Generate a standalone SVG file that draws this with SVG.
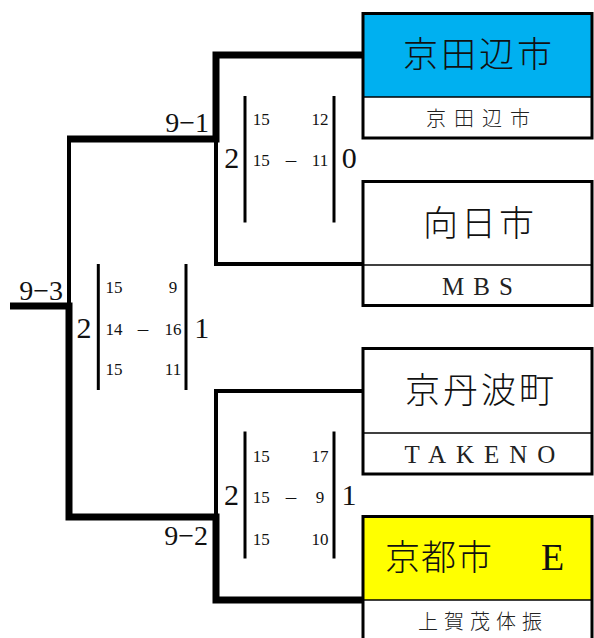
<svg xmlns="http://www.w3.org/2000/svg" width="594" height="638" viewBox="0 0 594 638">
<style>
.bg{fill:#ffffff}
.thick{fill:none;stroke:#000;stroke-width:7;stroke-linejoin:miter}
.thin{fill:none;stroke:#000;stroke-width:4;stroke-linejoin:miter}
.box{fill:none;stroke:#000;stroke-width:3}
.div{stroke:#000;stroke-width:1.3}
.bar{stroke:#000;stroke-width:3}
.name{font-family:"Liberation Serif","Noto Sans CJK JP",serif;font-size:35px;font-weight:300;fill:#111;text-anchor:middle}
.sub{font-family:"Liberation Serif","Noto Sans CJK JP",serif;font-size:20px;font-weight:300;fill:#222;text-anchor:middle}
.lat{font-family:"Liberation Serif","Noto Sans CJK JP",serif;font-size:25px;fill:#222;text-anchor:middle}
.lbl{font-family:"Liberation Serif",serif;font-size:28px;fill:#111;text-anchor:end}
.big{font-family:"Liberation Serif",serif;font-size:30px;fill:#111;text-anchor:middle}
.sm{font-family:"Liberation Serif",serif;font-size:17px;fill:#111;text-anchor:middle}
.dash{font-family:"Liberation Serif",serif;font-size:21px;fill:#111;text-anchor:middle}
</style>
<rect class="bg" x="0" y="0" width="594" height="638"/>

<g id="connectors">
  <polyline class="thin" points="69,139 69,306"/>
  <polyline class="thin" points="216,139 216,264 362,264"/>
  <polyline class="thin" points="216,517 216,391 362,391"/>
  <polyline class="thick" points="362,55 216,55 216,139 67,139"/>
  <polyline class="thick" points="10,306 69,306 69,517 216,517 216,600 362,600"/>
</g>

<g id="node-kyotanabe">
  <rect x="363" y="13.5" width="229" height="83.5" fill="#00B0F0"/>
  <line class="div" x1="363" y1="97" x2="592" y2="97"/>
  <rect class="box" x="363" y="13.5" width="229" height="124.5"/>
  <text class="name" x="479" y="67" letter-spacing="3">京田辺市</text>
  <text class="sub" x="482" y="126" letter-spacing="8">京田辺市</text>
</g>

<g id="node-muko">
  <line class="div" x1="363" y1="265" x2="592" y2="265"/>
  <rect class="box" x="363" y="181.5" width="229" height="124"/>
  <text class="name" x="480" y="236" letter-spacing="3">向日市</text>
  <text class="lat" x="482" y="295" letter-spacing="9">MBS</text>
</g>

<g id="node-kyotamba">
  <line class="div" x1="363" y1="433" x2="592" y2="433"/>
  <rect class="box" x="363" y="348.5" width="229" height="125.5"/>
  <text class="name" x="481" y="403" letter-spacing="3">京丹波町</text>
  <text class="lat" x="485" y="462.5" letter-spacing="10">TAKENO</text>
</g>

<g id="node-kyoto">
  <rect x="363" y="516.5" width="229" height="83.5" fill="#FFFF00"/>
  <line class="div" x1="363" y1="600" x2="592" y2="600"/>
  <rect class="box" x="363" y="516.5" width="229" height="130"/>
  <text class="name" x="385" y="570" letter-spacing="1" style="text-anchor:start">京都市　<tspan x="541" font-size="38">E</tspan></text>
  <text class="sub" x="483" y="629" font-size="22" letter-spacing="6">上賀茂体振</text>
</g>

<g id="labels">
  <text class="lbl" x="209" y="131.5">9−1</text>
  <text class="lbl" x="63" y="300">9−3</text>
  <text class="lbl" x="208" y="545">9−2</text>
</g>

<g id="score-1">
  <line class="bar" x1="245" y1="96" x2="245" y2="222.5"/>
  <line class="bar" x1="334" y1="96" x2="334" y2="222.5"/>
  <text class="big" x="231.7" y="168">2</text>
  <text class="big" x="349.3" y="168">0</text>
  <text class="sm" x="261.2" y="125">15</text>
  <text class="sm" x="320" y="125">12</text>
  <text class="sm" x="261.2" y="166">15</text>
  <text class="dash" x="291" y="167">–</text>
  <text class="sm" x="320" y="166">11</text>
</g>

<g id="score-2">
  <line class="bar" x1="98.3" y1="264" x2="98.3" y2="390"/>
  <line class="bar" x1="186" y1="264" x2="186" y2="390"/>
  <text class="big" x="84" y="338">2</text>
  <text class="big" x="201.7" y="338">1</text>
  <text class="sm" x="114" y="293">15</text>
  <text class="sm" x="173" y="293">9</text>
  <text class="sm" x="114" y="335">14</text>
  <text class="dash" x="143" y="336">–</text>
  <text class="sm" x="173" y="335">16</text>
  <text class="sm" x="114" y="375">15</text>
  <text class="sm" x="173" y="375">11</text>
</g>

<g id="score-3">
  <line class="bar" x1="245" y1="431.5" x2="245" y2="558.5"/>
  <line class="bar" x1="334" y1="431.5" x2="334" y2="558.5"/>
  <text class="big" x="231.5" y="505">2</text>
  <text class="big" x="349" y="505">1</text>
  <text class="sm" x="261.2" y="461.5">15</text>
  <text class="sm" x="320" y="461.5">17</text>
  <text class="sm" x="261.2" y="503">15</text>
  <text class="dash" x="291" y="504">–</text>
  <text class="sm" x="320" y="503">9</text>
  <text class="sm" x="261.2" y="545">15</text>
  <text class="sm" x="320" y="545">10</text>
</g>
</svg>
